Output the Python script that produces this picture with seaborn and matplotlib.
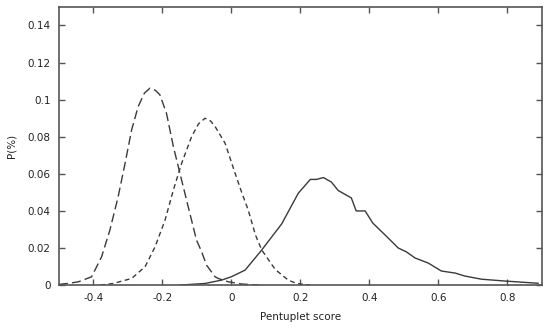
import pandas as pd
import seaborn as sns
import matplotlib.pyplot as plt
from matplotlib.ticker import FormatStrFormatter

# long-dash curve
x_long = [-0.5, -0.47, -0.443, -0.405, -0.376, -0.352, -0.328, -0.308, -0.289, -0.27,
          -0.252, -0.236, -0.22, -0.207, -0.188, -0.168, -0.149, -0.125, -0.101,
          -0.086, -0.072, -0.047, -0.038, -0.009, 0.03, 0.08]
y_long = [0.0004, 0.001, 0.0018, 0.0045, 0.0153, 0.0297, 0.0477, 0.0657, 0.0837, 0.0963,
          0.1035, 0.1062, 0.105, 0.1026, 0.0927, 0.0747, 0.0603, 0.0423, 0.0243,
          0.018, 0.0108, 0.0045, 0.0036, 0.0018, 0.0006, 0.0]

# short-dash curve
x_short = [-0.38, -0.342, -0.289, -0.25, -0.221, -0.192, -0.168, -0.144, -0.115, -0.095,
           -0.076, -0.06, -0.047, -0.018, 0.011, 0.03, 0.049, 0.07, 0.088, 0.127, 0.165,
           0.189, 0.23]
y_short = [0.0, 0.0009, 0.0036, 0.0099, 0.0207, 0.0351, 0.0513, 0.0657, 0.0801, 0.087,
           0.090, 0.0885, 0.0855, 0.0765, 0.0603, 0.050, 0.0405, 0.027, 0.019, 0.0085, 0.0027,
           0.0009, 0.0]

# solid curve
x_solid = [-0.15, -0.076, -0.028, 0.0, 0.04, 0.088, 0.146, 0.194, 0.229, 0.247, 0.267,
           0.29, 0.31, 0.348, 0.362, 0.388, 0.41, 0.446, 0.484, 0.507, 0.533, 0.571,
           0.609, 0.649, 0.677, 0.725, 0.793, 0.89]
y_solid = [0.0, 0.0009, 0.0027, 0.0045, 0.0081, 0.0189, 0.033, 0.0495, 0.057, 0.057, 0.058,
           0.0556, 0.051, 0.047, 0.040, 0.040, 0.0335, 0.027, 0.020, 0.018, 0.0146, 0.0119,
           0.0076, 0.0065, 0.0049, 0.0032, 0.0022, 0.001]

sns.set_style("ticks")
plt.rcParams['font.family'] = ['DejaVu Sans']
plt.rcParams['axes.unicode_minus'] = False

fig = plt.figure(figsize=(5.5, 3.3), dpi=100)
ax = fig.add_axes([0.107, 0.136, 0.878, 0.843])

line_color = '#3a3a3a'
sns.lineplot(x=x_long, y=y_long, ax=ax, color=line_color, lw=1.0, dashes=(6.5, 3))
sns.lineplot(x=x_short, y=y_short, ax=ax, color=line_color, lw=1.0, dashes=(3.5, 2.5))
sns.lineplot(x=x_solid, y=y_solid, ax=ax, color=line_color, lw=1.0)

ax.set_xlim(-0.5, 0.9)
ax.set_ylim(0, 0.15)
ax.set_xticks([-0.4, -0.2, 0, 0.2, 0.4, 0.6, 0.8])
ax.set_yticks([0, 0.02, 0.04, 0.06, 0.08, 0.1, 0.12, 0.14])
ax.xaxis.set_major_formatter(FormatStrFormatter('%g'))
ax.yaxis.set_major_formatter(FormatStrFormatter('%g'))
ax.tick_params(direction='in', length=4, width=1, color='#555555',
               labelsize=7.5, labelcolor='#222222', top=True, right=True, pad=6)
for s in ax.spines.values():
    s.set_color('#555555')
    s.set_linewidth(1.2)

ax.set_xlabel('Pentuplet score', fontsize=7.5, color='#222222', labelpad=6)
ax.set_ylabel('P(%)', fontsize=7.5, color='#222222', labelpad=8)

plt.savefig('out.png', dpi=100)
